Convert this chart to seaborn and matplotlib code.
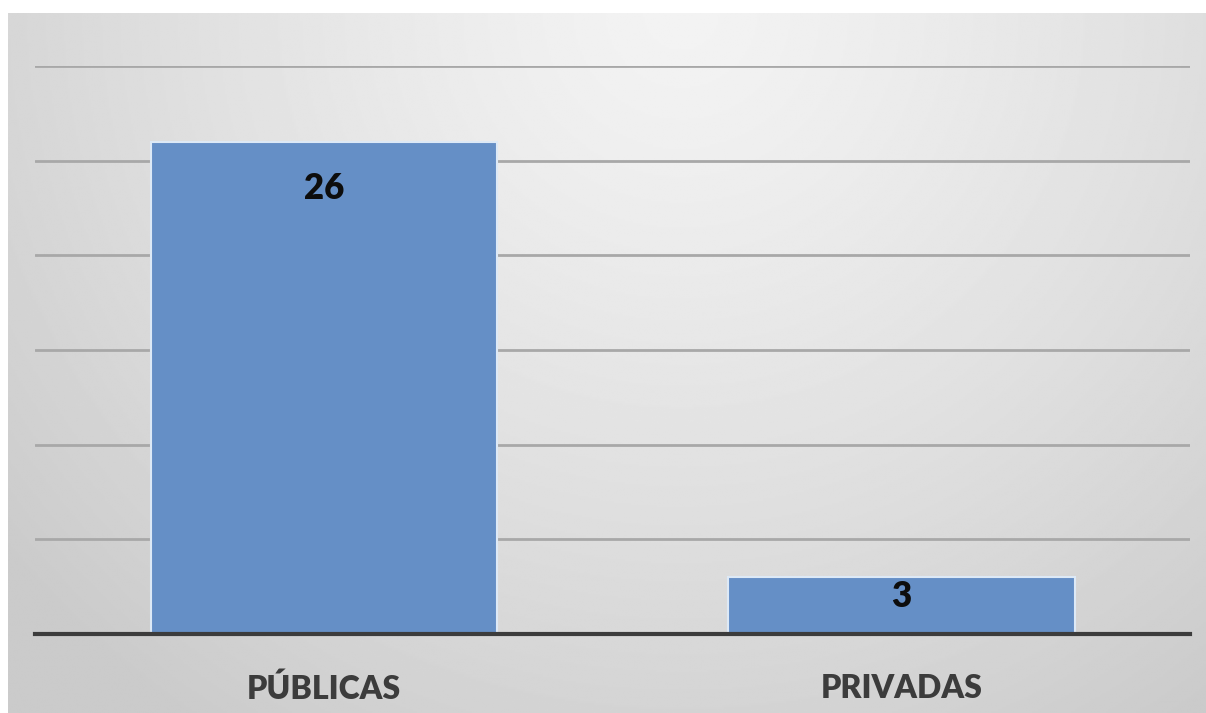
import numpy as np
import matplotlib
matplotlib.use("Agg")
import matplotlib.pyplot as plt
from matplotlib.patches import Rectangle
import seaborn as sns
import pandas as pd

# Data
categories = ["PÚBLICAS", "PRIVADAS"]
values = [26, 3]

sns.set_style("white")
plt.rcParams["font.family"] = ["Lato", "DejaVu Sans"]

W, H = 1206, 713
fig = plt.figure(figsize=(W / 100, H / 100), dpi=100)
fig.patch.set_facecolor("#d2d2d2")

# Soft radial gradient backdrop
bg = fig.add_axes([8 / W, -0.01, 1 - 8 / W + 0.02, 1 - 13 / H + 0.01], zorder=0)
ny, nx = 350, 600
yy, xx = np.mgrid[0:ny, 0:nx]
cx, cy = 0.55 * nx, 0.0
r = np.sqrt(((xx - cx) / (0.62 * nx)) ** 2 + ((yy - cy) / (1.05 * ny)) ** 2)
r = np.clip(r, 0, 1.15) / 1.15
light, dark = 0.952, 0.795
grad = light - (light - dark) * r ** 1.3
bg.imshow(grad, cmap="gray", vmin=0, vmax=1, aspect="auto",
          extent=[0, 1, 0, 1], origin="upper", interpolation="bilinear")
bg.set_xlim(0, 1)
bg.set_ylim(0, 1)
bg.set_axis_off()

# White margin along the top and left edges
fig.patches.append(Rectangle((0, 1 - 13 / H), 1, 13 / H, transform=fig.transFigure,
                             facecolor="white", edgecolor="none", zorder=2))
fig.patches.append(Rectangle((0, 0), 8 / W, 1, transform=fig.transFigure,
                             facecolor="white", edgecolor="none", zorder=2))

# Main chart axes
ax = fig.add_axes([35 / W, (H - 634) / H, (1190 - 35) / W, (634 - 66) / H], zorder=1)
ax.patch.set_alpha(0)

df = pd.DataFrame({"tipo": categories, "n": values})
sns.barplot(data=df, x="tipo", y="n", color="#658fc6", saturation=1,
            width=0.6, edgecolor="#dde9f6", linewidth=1.5, ax=ax, zorder=3)

ax.set_ylim(0, 30)
ax.set_yticks([5, 10, 15, 20, 25, 30])
ax.yaxis.grid(True, color="#a8a8a8", linewidth=2, zorder=0)
ax.set_axisbelow(True)
ax.tick_params(axis="y", left=False, labelleft=False)
ax.tick_params(axis="x", bottom=False, pad=25, labelsize=23, labelcolor="#3c3c3c")
for lbl in ax.get_xticklabels():
    lbl.set_fontweight("heavy")
ax.set_xlabel("")
ax.set_ylabel("")
for side in ["top", "right", "left"]:
    ax.spines[side].set_visible(False)
ax.spines["bottom"].set_color("#3c3c3c")
ax.spines["bottom"].set_linewidth(3)
ax.spines["bottom"].set_zorder(5)

# Value labels inside the bars
for i, v in enumerate(values):
    off = -30 if v > 10 else -3
    ax.annotate(str(v), xy=(i, v), xytext=(0, off), textcoords="offset pixels",
                ha="center", va="top", fontsize=25, fontweight="heavy",
                color="#0d0d0d", zorder=6)

fig.savefig("out.png", dpi=100, facecolor=fig.get_facecolor())
